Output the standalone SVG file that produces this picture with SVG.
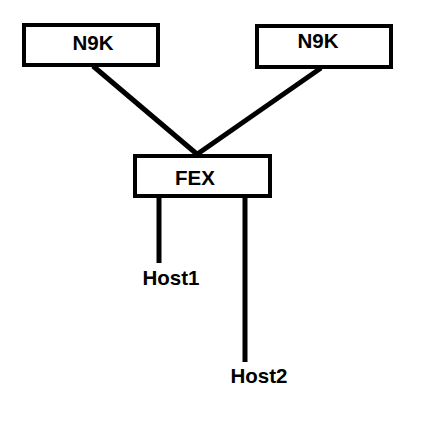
<svg xmlns="http://www.w3.org/2000/svg" width="422" height="443" viewBox="0 0 422 443">
<style>
.box{fill:#fff;stroke:#000;stroke-width:4}
.lbl{font-family:"Liberation Sans",Arial,sans-serif;font-weight:bold;font-size:20.5px;fill:#000;text-anchor:middle}
.ln{stroke:#000;stroke-width:5;fill:none}
</style>
<rect width="422" height="443" fill="#fff"/>
<g id="connectors">
<line class="ln" x1="93" y1="66" x2="198" y2="155"/>
<line class="ln" x1="321" y1="68" x2="196" y2="155"/>
<line class="ln" x1="159" y1="197" x2="159" y2="263"/>
<line class="ln" x1="245" y1="197" x2="245" y2="362"/>
</g>
<g id="n9k-left">
<rect class="box" x="24" y="25" width="134" height="40"/>
<text class="lbl" x="93" y="50">N9K</text>
</g>
<g id="n9k-right">
<rect class="box" x="257" y="26" width="134" height="41"/>
<text class="lbl" x="318" y="48">N9K</text>
</g>
<g id="fex">
<rect class="box" x="135" y="156" width="135" height="40"/>
<text class="lbl" x="195" y="185">FEX</text>
</g>
<g id="host1">
<text class="lbl" x="171" y="285">Host1</text>
</g>
<g id="host2">
<text class="lbl" x="259" y="383">Host2</text>
</g>
</svg>
